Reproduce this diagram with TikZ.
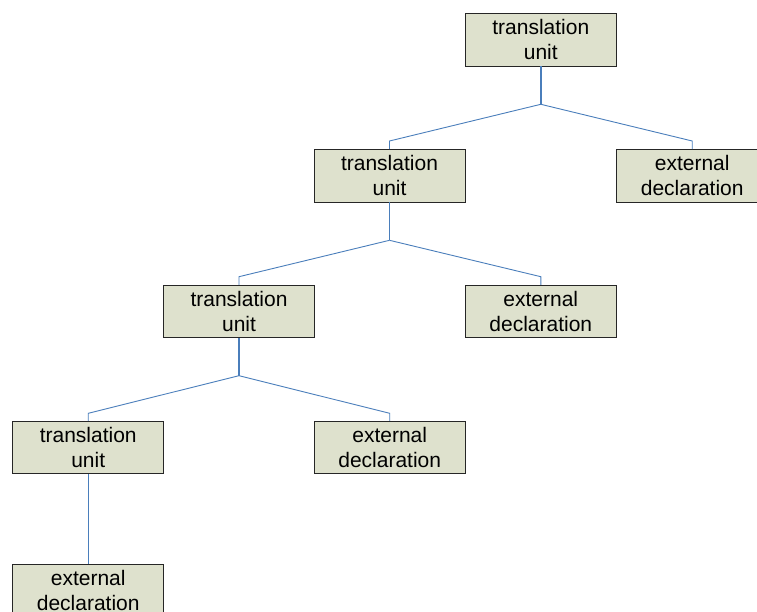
\documentclass[tikz,border=0pt]{standalone}
\usepackage{fontspec}
\setmainfont{Liberation Sans}
\definecolor{boxfill}{HTML}{DEE1CD}
\definecolor{linkblue}{HTML}{4A7EBB}
\begin{document}
\begin{tikzpicture}[x=1pt,y=-1pt,
  treebox/.style={draw=black!85, line width=0.8pt, fill=boxfill,
    minimum width=151pt, minimum height=52.5pt, inner sep=0pt,
    align=center, font=\fontsize{21}{25}\selectfont},
  stem/.style={draw=linkblue, line width=1.4pt},
  link/.style={draw=linkblue, line width=0.9pt}]
\useasboundingbox (0,0) rectangle (757,612);
\clip (0,0) rectangle (757,612);
% nodes
\node[treebox] (tu0) at (540.8,39.75) {translation\\unit};
\node[treebox] (tu1) at (389.5,175.75) {translation\\unit};
\node[treebox] (ed1) at (692.2,175.9) {external\\declaration};
\node[treebox] (tu2) at (239,311.6) {translation\\unit};
\node[treebox] (ed2) at (540.8,311.6) {external\\declaration};
\node[treebox] (tu3) at (88.2,447.4) {translation\\unit};
\node[treebox] (ed3) at (389.7,447.4) {external\\declaration};
\node[treebox] (ed4) at (88.2,590.6) {external\\declaration};
% junctions and elbows
\coordinate (j0) at (540.8,104.3);
\coordinate (e1a) at (389.5,141);
\coordinate (e1b) at (692.2,141);
\coordinate (j1) at (389.5,240.3);
\coordinate (e2a) at (239,276.7);
\coordinate (e2b) at (540.8,276.7);
\coordinate (j2) at (239,375.7);
\coordinate (e3a) at (88.2,413.3);
\coordinate (e3b) at (389.7,413.3);
% connectors
\draw[stem] (tu0.south) -- (j0);
\draw[link] (j0) -- (e1a) -- (tu1.north);
\draw[link] (j0) -- (e1b) -- (ed1.north);
\draw[stem] (tu1.south) -- (j1);
\draw[link] (j1) -- (e2a) -- (tu2.north);
\draw[link] (j1) -- (e2b) -- (ed2.north);
\draw[stem] (tu2.south) -- (j2);
\draw[link] (j2) -- (e3a) -- (tu3.north);
\draw[link] (j2) -- (e3b) -- (ed3.north);
\draw[link] (tu3.south) -- (ed4.north);
\end{tikzpicture}
\end{document}
